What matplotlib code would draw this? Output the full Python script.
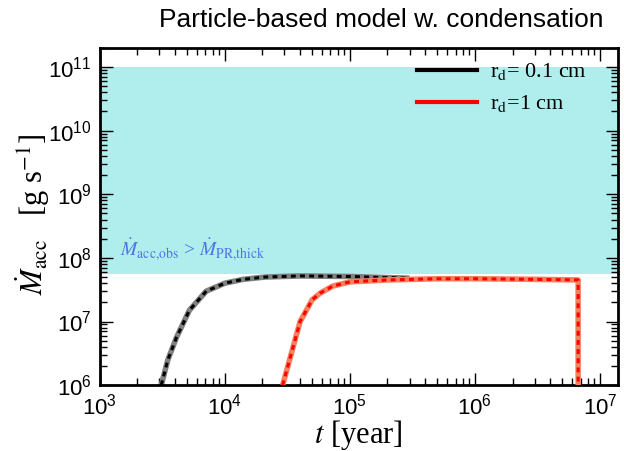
import matplotlib
matplotlib.use("Agg")
import matplotlib.pyplot as plt
from matplotlib.ticker import LogLocator, NullFormatter

t_small = [3.1e3, 3.5e3, 4.1e3, 5.2e3, 7.1e3, 1e4, 1.4e4, 2.1e4, 4e4, 1e5, 2e5, 3e5]
mdot_small = [1e6, 2.5e6, 5.6e6, 1.5e7, 3e7, 4e7, 4.6e7, 5e7, 5.2e7, 5.1e7, 4.9e7, 4.8e7]

t_large = [2.9e4, 4e4, 5e4, 5.8e4, 7.3e4, 1e5, 2e5, 5e5, 1e6, 3e6, 6.7e6, 6.7e6]
mdot_large = [1e6, 1e7, 2.2e7, 2.8e7, 3.6e7, 4.2e7, 4.5e7, 4.7e7, 4.7e7, 4.6e7, 4.5e7, 1e5]

band_low, band_high = 5.6e7, 1e11
labels = [r"r$_{\rm d}$= 0.1 cm", r"r$_{\rm d}$=1 cm"]

plt.rcParams["font.family"] = "Liberation Sans"
plt.rcParams["mathtext.fontset"] = "stix"

fig = plt.figure(figsize=(6.24, 4.51), dpi=100)
ax = fig.add_axes([0.160, 0.146, 0.830, 0.748])
ax.set_xscale("log")
ax.set_yscale("log")
ax.set_xlim(1e3, 1.39e7)
ax.set_ylim(1e6, 2e11)

ax.axhspan(band_low, band_high, color="#b0eded", zorder=0, lw=0)

ax.plot(t_small, mdot_small, color="#808080", lw=4, solid_capstyle="butt", zorder=2)
ax.plot(t_small, mdot_small, color="black", lw=2.2, ls=(0, (1.6, 1.4)), zorder=3)
ax.plot(t_large, mdot_large, color="#f5805f", lw=4, solid_capstyle="butt", zorder=4)
ax.plot(t_large, mdot_large, color="#ff0000", lw=2.2, ls=(0, (1.6, 1.4)), zorder=5)

# legend entries are plain solid lines
h1, = ax.plot([], [], color="black", lw=3)
h2, = ax.plot([], [], color="red", lw=3)
ax.legend([h1, h2], labels, loc="upper left", frameon=False,
          prop={"family": "Liberation Serif", "size": 16},
          handlelength=2.7, handletextpad=0.6, borderpad=0.0,
          borderaxespad=0.0, labelspacing=0.5,
          bbox_to_anchor=(0.612, 0.96))

ax.text(1.45e3, 1.05e8, r"$\dot{M}_{\rm acc{,}obs}$ > $\dot{M}_{\rm PR{,}thick}$",
        color="#4f74e3", fontsize=14, family="Liberation Serif", va="baseline")

fig.text(0.611, 0.955, "Particle-based model w. condensation", fontsize=19,
         ha="center", va="center")
ax.set_xlabel(r"$t$ [year]", fontsize=22, family="Liberation Serif", labelpad=-1)
fig.text(0.052, 0.525, r"$\dot{M}_{\rm acc}$   [g s$^{-1}$]", fontsize=22,
         family="Liberation Serif", rotation=90, ha="center", va="center")

ax.xaxis.set_major_locator(LogLocator(base=10, numticks=10))
ax.xaxis.set_minor_locator(LogLocator(base=10, subs=range(2, 10), numticks=20))
ax.yaxis.set_major_locator(LogLocator(base=10, numticks=10))
ax.yaxis.set_minor_locator(LogLocator(base=10, subs=range(2, 10), numticks=20))
ax.xaxis.set_minor_formatter(NullFormatter())
ax.yaxis.set_minor_formatter(NullFormatter())

ax.tick_params(which="both", direction="in", top=True, right=True)
ax.tick_params(which="major", length=9, width=1, labelsize=16, pad=6)
ax.tick_params(which="minor", length=5, width=1)
for s in ax.spines.values():
    s.set_linewidth(2)

fig.savefig("out.png", dpi=100)
